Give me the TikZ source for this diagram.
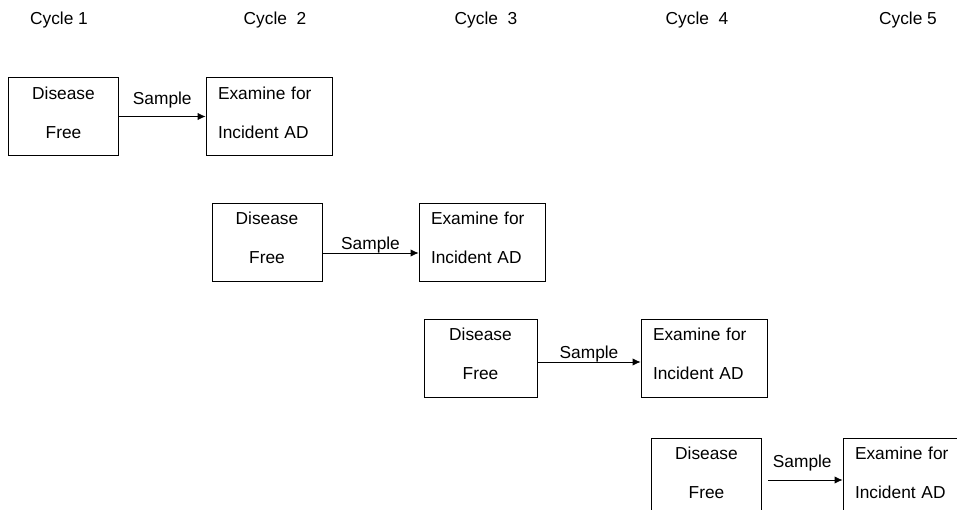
\documentclass[tikz,border=0pt]{standalone}
\usepackage{fontspec}
\setmainfont{Liberation Sans}
\usetikzlibrary{arrows.meta}
\usetikzlibrary{positioning}

\begin{document}
\begin{tikzpicture}[x=0.75pt, y=-0.75pt,
    freebox/.style={draw, line width=0.6pt, minimum width=82.5pt, minimum height=58.5pt,
        align=center, text depth=6pt, font=\fontsize{13}{29.25}\selectfont},
    exambox/.style={draw, line width=0.6pt, text width=76.5pt, inner xsep=9pt, minimum height=58.5pt,
        align=left, text depth=35.25pt, font=\fontsize{13}{29.25}\selectfont},
    samplearrow/.style={-{Latex[length=6pt, width=5.5pt]}, line width=0.6pt},
    lbl/.style={font=\fontsize{13}{15.6}\selectfont}]
    \clip (0,0) rectangle (957,510);

    % Cycle headings
    \node[lbl] (cyc1) at (59,20) {Cycle 1};
    \node[lbl] (cyc2) at (275,20) {Cycle\ \ 2};
    \node[lbl] (cyc3) at (486,20) {Cycle\ \ 3};
    \node[lbl] (cyc4) at (697,20) {Cycle\ \ 4};
    \node[lbl] (cyc5) at (908,20) {Cycle 5};

    % Cycle 1 -> 2
    \node[freebox] (dis1) at (63.5,116.5) {Disease\\Free};
    \node[exambox] (exa1) at (269,116.5) {Examine for\\Incident AD};
    \draw[samplearrow] (dis1.east) -- (exa1.west) node[lbl, midway, above=3pt] {Sample};

    % Cycle 2 -> 3
    \node[freebox] (dis2) at (267,242) {Disease\\Free};
    \node[exambox] (exa2) at (482,242) {Examine for\\Incident AD};
    \draw[samplearrow] ([yshift=-8.25pt]dis2.east) -- ([yshift=-8.25pt]exa2.west)
        node[lbl, midway, above=-3.75pt] {Sample};

    % Cycle 3 -> 4
    \node[freebox, minimum width=84.75pt] (dis3) at (480.5,358) {Disease\\Free};
    \node[exambox] (exa3) at (704,358) {Examine for\\Incident AD};
    \draw[samplearrow] ([yshift=-3pt]dis3.east) -- ([yshift=-3pt]exa3.west)
        node[lbl, midway, above=-3.75pt] {Sample};

    % Cycle 4 -> 5 (runs off the page)
    \node[freebox] (dis4) at (706.5,477) {Disease\\Free};
    \node[exambox] (exa4) at (906,477) {Examine for\\Incident AD};
    \draw[samplearrow, shorten <=4.5pt] ([yshift=-2.25pt]dis4.east) -- ([yshift=-2.25pt]exa4.west)
        node[lbl, midway, above=3pt] {Sample};
\end{tikzpicture}
\end{document}
